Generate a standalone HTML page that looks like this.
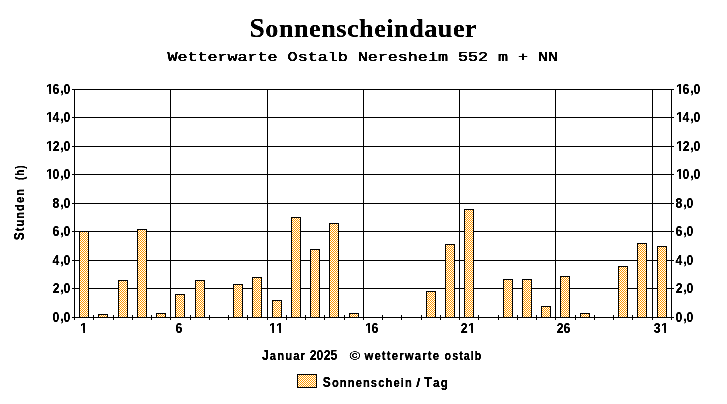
<!DOCTYPE html>
<html lang="de"><head><meta charset="utf-8"><title>Sonnenscheindauer</title>
<style>html,body{margin:0;padding:0;background:#fff;overflow:hidden}svg{display:block}text{fill:#000}.t{font-family:"Liberation Sans",Arial,sans-serif;font-weight:bold;font-size:14.2px;stroke:#000;stroke-width:0.2px}.wd{font-family:"Liberation Sans",Arial,sans-serif;font-weight:bold;font-size:13.1px;stroke:#000;stroke-width:0.3px;letter-spacing:1.3px}.title{font-family:"Liberation Serif","Times New Roman",serif;font-weight:bold;font-size:26.0px;stroke:#000;stroke-width:0.2px;letter-spacing:0.5px}.sub{font-family:"Liberation Mono","Courier New",monospace;font-weight:normal;font-size:13.7px;stroke:#000;stroke-width:0.45px}.w{fill:#fff}</style></head><body>
<svg width="727" height="404" viewBox="0 0 727 404" role="img" aria-label="Sonnenscheindauer">
<defs><pattern id="chk" x="0" y="0" width="2" height="2" patternUnits="userSpaceOnUse"><rect x="0" y="0" width="2" height="2" fill="#fff"/><rect x="0" y="0" width="1" height="1" fill="#ff9900"/><rect x="1" y="1" width="1" height="1" fill="#ff9900"/></pattern><filter id="bin" x="0" y="0" width="727" height="404" filterUnits="userSpaceOnUse" color-interpolation-filters="sRGB"><feComponentTransfer><feFuncA type="table" tableValues="0 0 0.5 1 1"/></feComponentTransfer></filter></defs>
<rect x="0" y="0" width="727" height="404" fill="#fff"/>
<g shape-rendering="crispEdges" fill="#000">
<rect x="72" y="317" width="602" height="1"/>
<rect x="72" y="288" width="602" height="1"/>
<rect x="72" y="260" width="602" height="1"/>
<rect x="72" y="231" width="602" height="1"/>
<rect x="72" y="203" width="602" height="1"/>
<rect x="72" y="174" width="602" height="1"/>
<rect x="72" y="146" width="602" height="1"/>
<rect x="72" y="117" width="602" height="1"/>
<rect x="72" y="89" width="602" height="1"/>
<rect x="74" y="89" width="1" height="229"/>
<rect x="170" y="89" width="1" height="229"/>
<rect x="267" y="89" width="1" height="229"/>
<rect x="363" y="89" width="1" height="229"/>
<rect x="459" y="89" width="1" height="229"/>
<rect x="555" y="89" width="1" height="229"/>
<rect x="652" y="89" width="1" height="229"/>
<rect x="671" y="89" width="1" height="229"/>
<rect x="74" y="315" width="1" height="5"/>
<rect x="93" y="315" width="1" height="5"/>
<rect x="113" y="315" width="1" height="5"/>
<rect x="132" y="315" width="1" height="5"/>
<rect x="151" y="315" width="1" height="5"/>
<rect x="170" y="315" width="1" height="5"/>
<rect x="190" y="315" width="1" height="5"/>
<rect x="209" y="315" width="1" height="5"/>
<rect x="228" y="315" width="1" height="5"/>
<rect x="247" y="315" width="1" height="5"/>
<rect x="267" y="315" width="1" height="5"/>
<rect x="286" y="315" width="1" height="5"/>
<rect x="305" y="315" width="1" height="5"/>
<rect x="324" y="315" width="1" height="5"/>
<rect x="344" y="315" width="1" height="5"/>
<rect x="363" y="315" width="1" height="5"/>
<rect x="382" y="315" width="1" height="5"/>
<rect x="401" y="315" width="1" height="5"/>
<rect x="421" y="315" width="1" height="5"/>
<rect x="440" y="315" width="1" height="5"/>
<rect x="459" y="315" width="1" height="5"/>
<rect x="478" y="315" width="1" height="5"/>
<rect x="498" y="315" width="1" height="5"/>
<rect x="517" y="315" width="1" height="5"/>
<rect x="536" y="315" width="1" height="5"/>
<rect x="555" y="315" width="1" height="5"/>
<rect x="575" y="315" width="1" height="5"/>
<rect x="594" y="315" width="1" height="5"/>
<rect x="613" y="315" width="1" height="5"/>
<rect x="632" y="315" width="1" height="5"/>
<rect x="652" y="315" width="1" height="5"/>
<rect x="671" y="315" width="1" height="5"/>
<rect x="79" y="231" width="10" height="87"/>
<rect x="80" y="232" width="8" height="85" fill="url(#chk)"/>
<rect x="98" y="314" width="10" height="4"/>
<rect x="99" y="315" width="8" height="2" fill="url(#chk)"/>
<rect x="118" y="280" width="10" height="38"/>
<rect x="119" y="281" width="8" height="36" fill="url(#chk)"/>
<rect x="137" y="229" width="10" height="89"/>
<rect x="138" y="230" width="8" height="87" fill="url(#chk)"/>
<rect x="156" y="313" width="10" height="5"/>
<rect x="157" y="314" width="8" height="3" fill="url(#chk)"/>
<rect x="175" y="294" width="10" height="24"/>
<rect x="176" y="295" width="8" height="22" fill="url(#chk)"/>
<rect x="195" y="280" width="10" height="38"/>
<rect x="196" y="281" width="8" height="36" fill="url(#chk)"/>
<rect x="233" y="284" width="10" height="34"/>
<rect x="234" y="285" width="8" height="32" fill="url(#chk)"/>
<rect x="252" y="277" width="10" height="41"/>
<rect x="253" y="278" width="8" height="39" fill="url(#chk)"/>
<rect x="272" y="300" width="10" height="18"/>
<rect x="273" y="301" width="8" height="16" fill="url(#chk)"/>
<rect x="291" y="217" width="10" height="101"/>
<rect x="292" y="218" width="8" height="99" fill="url(#chk)"/>
<rect x="310" y="249" width="10" height="69"/>
<rect x="311" y="250" width="8" height="67" fill="url(#chk)"/>
<rect x="329" y="223" width="10" height="95"/>
<rect x="330" y="224" width="8" height="93" fill="url(#chk)"/>
<rect x="349" y="313" width="10" height="5"/>
<rect x="350" y="314" width="8" height="3" fill="url(#chk)"/>
<rect x="426" y="291" width="10" height="27"/>
<rect x="427" y="292" width="8" height="25" fill="url(#chk)"/>
<rect x="445" y="244" width="10" height="74"/>
<rect x="446" y="245" width="8" height="72" fill="url(#chk)"/>
<rect x="464" y="209" width="10" height="109"/>
<rect x="465" y="210" width="8" height="107" fill="url(#chk)"/>
<rect x="503" y="279" width="10" height="39"/>
<rect x="504" y="280" width="8" height="37" fill="url(#chk)"/>
<rect x="522" y="279" width="10" height="39"/>
<rect x="523" y="280" width="8" height="37" fill="url(#chk)"/>
<rect x="541" y="306" width="10" height="12"/>
<rect x="542" y="307" width="8" height="10" fill="url(#chk)"/>
<rect x="560" y="276" width="10" height="42"/>
<rect x="561" y="277" width="8" height="40" fill="url(#chk)"/>
<rect x="580" y="313" width="10" height="5"/>
<rect x="581" y="314" width="8" height="3" fill="url(#chk)"/>
<rect x="618" y="266" width="10" height="52"/>
<rect x="619" y="267" width="8" height="50" fill="url(#chk)"/>
<rect x="637" y="243" width="10" height="75"/>
<rect x="638" y="244" width="8" height="73" fill="url(#chk)"/>
<rect x="657" y="246" width="10" height="72"/>
<rect x="658" y="247" width="8" height="70" fill="url(#chk)"/>
<rect x="297" y="374" width="20" height="14"/><rect x="298" y="375" width="18" height="12" fill="url(#chk)"/>
</g>
<g id="txt" filter="url(#bin)">
<text class="title" transform="translate(249.54,37.00) scale(1.0083,1)"><tspan style="font-size:27.2px">S</tspan>onnenscheindauer</text>
<text class="sub" transform="translate(167.40,61.00) scale(1.2197,1)">Wetterwarte Ostalb Neresheim 552 m + NN</text>
<text class="wd" transform="translate(261.90,360.00) scale(0.8620,1)"><tspan style="font-size:14.1px">J</tspan>anuar</text>
<text class="wd" style="font-size:13.5px;stroke-width:0.1px" transform="translate(349.53,360.00) scale(1.0842,1)">©</text>
<text class="wd" transform="translate(364.42,360.00) scale(0.8700,1)">wetterwarte</text>
<text class="wd" transform="translate(444.55,360.00) scale(0.8169,1)">ostalb</text>
<text class="wd" transform="translate(322.79,387.00) scale(0.8512,1)"><tspan style="font-size:14.1px">S</tspan>onnenschein</text>
<text class="wd" style="stroke-width:0.1px" transform="translate(415.90,387.00) scale(1.2286,1)">/</text>
<text class="wd" transform="translate(424.20,387.00) scale(0.8932,1)"><tspan style="font-size:14.1px">T</tspan>ag</text>
<text class="wd" transform="translate(24.00,240.31) rotate(-90) scale(0.8417,1)"><tspan style="font-size:14.1px">S</tspan>tunden</text>
<text class="wd" style="font-size:13.7px" transform="translate(24.00,180.11) rotate(-90) scale(0.7289,1)">(h)</text>
<text class="t" transform="translate(0,322) scale(0.865,1)" x="60.802 69.676 73.519" y="0 -0.8 0">0,0</text>
<text class="t" transform="translate(0,322) scale(0.865,1)" x="781.034 789.908 793.750" y="0 -0.8 0">0,0</text>
<text class="t" transform="translate(0,293) scale(0.865,1)" x="60.865 69.676 73.519" y="0 -0.8 0">2,0</text>
<text class="t" transform="translate(0,293) scale(0.865,1)" x="781.096 789.908 793.750" y="0 -0.8 0">2,0</text>
<text class="t" transform="translate(0,265) scale(0.865,1)" x="60.740 69.676 73.519" y="0 -0.8 0">4,0</text>
<text class="t" transform="translate(0,265) scale(0.865,1)" x="780.971 789.908 793.750" y="0 -0.8 0">4,0</text>
<text class="t" transform="translate(0,236) scale(0.865,1)" x="60.802 69.676 73.519" y="0 -0.8 0">6,0</text>
<text class="t" transform="translate(0,236) scale(0.865,1)" x="781.034 789.908 793.750" y="0 -0.8 0">6,0</text>
<text class="t" transform="translate(0,208) scale(0.865,1)" x="60.802 69.676 73.519" y="0 -0.8 0">8,0</text>
<text class="t" transform="translate(0,208) scale(0.865,1)" x="781.034 789.908 793.750" y="0 -0.8 0">8,0</text>
<text class="t" transform="translate(0,179) scale(0.865,1)" x="53.585 60.802 69.676 73.519" y="0 0 -0.8 0">10,0</text>
<rect class="w" x="45.40" y="176.6" width="3.76" height="3.4"/><rect class="w" x="51" y="176.6" width="2" height="3.4"/>
<text class="t" transform="translate(0,179) scale(0.865,1)" x="781.908 789.126 798.000 801.843" y="0 0 -0.8 0">10,0</text>
<rect class="w" x="675.40" y="176.6" width="3.76" height="3.4"/><rect class="w" x="681" y="176.6" width="2" height="3.4"/>
<text class="t" transform="translate(0,151) scale(0.865,1)" x="53.585 60.865 69.676 73.519" y="0 0 -0.8 0">12,0</text>
<rect class="w" x="45.40" y="148.6" width="3.76" height="3.4"/><rect class="w" x="51" y="148.6" width="2" height="3.4"/>
<text class="t" transform="translate(0,151) scale(0.865,1)" x="781.908 789.189 798.000 801.843" y="0 0 -0.8 0">12,0</text>
<rect class="w" x="675.40" y="148.6" width="3.76" height="3.4"/><rect class="w" x="681" y="148.6" width="2" height="3.4"/>
<text class="t" transform="translate(0,122) scale(0.865,1)" x="53.585 60.740 69.676 73.519" y="0 0 -0.8 0">14,0</text>
<rect class="w" x="45.40" y="119.6" width="3.76" height="3.4"/><rect class="w" x="51" y="119.6" width="2" height="3.4"/>
<text class="t" transform="translate(0,122) scale(0.865,1)" x="781.908 789.064 798.000 801.843" y="0 0 -0.8 0">14,0</text>
<rect class="w" x="675.40" y="119.6" width="3.76" height="3.4"/><rect class="w" x="681" y="119.6" width="2" height="3.4"/>
<text class="t" transform="translate(0,94) scale(0.865,1)" x="53.585 60.802 69.676 73.519" y="0 0 -0.8 0">16,0</text>
<rect class="w" x="45.40" y="91.6" width="3.76" height="3.4"/><rect class="w" x="51" y="91.6" width="2" height="3.4"/>
<text class="t" transform="translate(0,94) scale(0.865,1)" x="781.908 789.126 798.000 801.843" y="0 0 -0.8 0">16,0</text>
<rect class="w" x="675.40" y="91.6" width="3.76" height="3.4"/><rect class="w" x="681" y="91.6" width="2" height="3.4"/>
<text class="t" transform="translate(0,360) scale(0.865,1)" x="357.975 366.005 374.160 382.127">2025</text>
<text class="t" transform="translate(0,333) scale(0.865,1)" x="92.891">1</text>
<rect class="w" x="79.40" y="330.6" width="3.76" height="3.4"/><rect class="w" x="85" y="330.6" width="2" height="3.4"/>
<text class="t" transform="translate(0,333) scale(0.865,1)" x="202.999">6</text>
<text class="t" transform="translate(0,333) scale(0.865,1)" x="311.388 319.480">11</text>
<rect class="w" x="268.40" y="330.6" width="3.76" height="3.4"/><rect class="w" x="274" y="330.6" width="2" height="3.4"/>
<rect class="w" x="275.40" y="330.6" width="3.76" height="3.4"/><rect class="w" x="281" y="330.6" width="2" height="3.4"/>
<text class="t" transform="translate(0,333) scale(0.865,1)" x="422.371 429.589">16</text>
<rect class="w" x="364.40" y="330.6" width="3.76" height="3.4"/><rect class="w" x="370" y="330.6" width="2" height="3.4"/>
<text class="t" transform="translate(0,333) scale(0.865,1)" x="532.541 541.446">21</text>
<rect class="w" x="467.40" y="330.6" width="3.76" height="3.4"/><rect class="w" x="473" y="330.6" width="2" height="3.4"/>
<text class="t" transform="translate(0,333) scale(0.865,1)" x="643.524 651.554">26</text>
<text class="t" transform="translate(0,333) scale(0.865,1)" x="755.663 764.567">31</text>
<rect class="w" x="660.40" y="330.6" width="3.76" height="3.4"/><rect class="w" x="666" y="330.6" width="2" height="3.4"/>
</g>
</svg></body></html>
